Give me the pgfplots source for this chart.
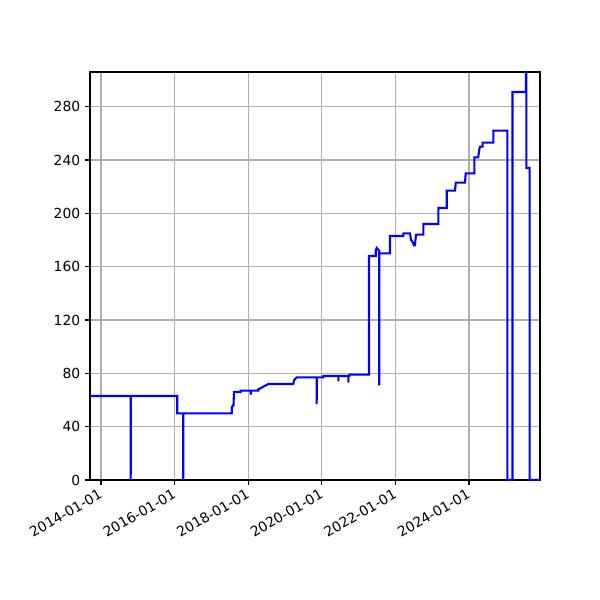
\documentclass[border=0pt]{standalone}
\usepackage{fontspec}
\setmainfont{DejaVu Sans}
\usepackage{pgfplots}
\pgfplotsset{compat=1.18}
\definecolor{gridgray}{RGB}{176,176,176}
\begin{document}
\begin{tikzpicture}
\path[use as bounding box] (-64.8pt,-86.4pt) rectangle (367.2pt,345.6pt);
\begin{axis}[
  at={(0,0)}, anchor=south west,
  scale only axis, width=324pt, height=293.76pt,
  xmin=2013.701, xmax=2025.929, ymin=0, ymax=306,
  xtick={2014,2016,2018,2020,2022,2024},
  xticklabels={2014-01-01,2016-01-01,2018-01-01,2020-01-01,2022-01-01,2024-01-01},
  ytick={0,40,80,120,160,200,240,280},
  /pgf/number format/assume math mode=true,
  grid=major,
  major grid style={color=gridgray, line width=0.8pt},
  axis line style={line width=0.8pt},
  tick pos=left, tick align=outside, major tick length=3.5pt,
  every tick/.style={black, line width=0.8pt},
  xticklabel style={rotate=30, anchor=north east, inner sep=1pt, xshift=-2pt, font=\fontsize{10}{12}\selectfont},
  yticklabel style={font=\fontsize{10}{12}\selectfont},
]
\addplot[blue, line width=1.5pt, line join=miter] coordinates {
(2013.701,63) (2014.807,63) (2014.807,0) (2014.810,63)
(2016.073,63) (2016.073,50) (2016.236,50) (2016.236,0) (2016.239,50)
(2017.552,50) (2017.560,55) (2017.600,56) (2017.614,66) (2017.796,66) (2017.796,67)
(2018.068,67) (2018.068,64) (2018.071,67) (2018.274,67) (2018.274,68) (2018.35,69)
(2018.41,70) (2018.48,71) (2018.546,72) (2019.226,72) (2019.25,75) (2019.318,77)
(2019.861,77) (2019.861,57) (2019.864,77) (2020.041,77) (2020.041,78)
(2020.448,78) (2020.448,74) (2020.451,78) (2020.720,78) (2020.720,73) (2020.723,78)
(2020.747,78) (2020.747,79) (2021.283,79) (2021.283,168) (2021.465,168) (2021.465,172)
(2021.49,174) (2021.527,173) (2021.545,172) (2021.562,172) (2021.562,71) (2021.565,170)
(2021.853,170) (2021.853,183) (2022.215,183) (2022.215,185) (2022.397,185)
(2022.424,180) (2022.46,179) (2022.505,176) (2022.53,176) (2022.560,184)
(2022.758,184) (2022.758,192) (2023.166,192) (2023.166,204) (2023.394,204)
(2023.394,217) (2023.620,217) (2023.64,223) (2023.891,223) (2023.91,230)
(2024.144,230) (2024.144,242) (2024.25,242) (2024.28,248) (2024.30,250)
(2024.372,250) (2024.372,253) (2024.660,253) (2024.660,262) (2025.041,262)
(2025.041,0) (2025.182,0) (2025.182,291) (2025.549,291) (2025.549,306)
(2025.56,306) (2025.56,234) (2025.647,234) (2025.647,0) (2025.929,0)
};
\end{axis}
\end{tikzpicture}
\end{document}
